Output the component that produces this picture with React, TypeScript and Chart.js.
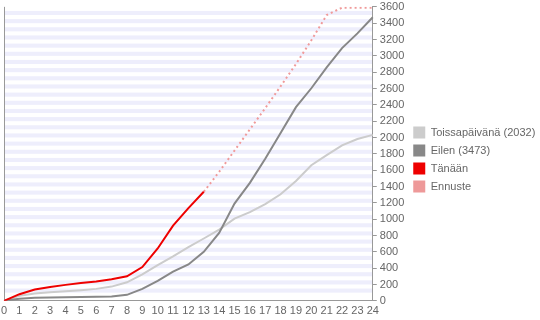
import React, { useEffect, useRef } from "react";
import { Chart, registerables } from "chart.js";

Chart.register(...registerables);

const hours = ["0","1","2","3","4","5","6","7","8","9","10","11","12","13","14","15","16","17","18","19","20","21","22","23","24"];
const toissapaivana = [0, 61, 89, 105, 117, 130, 146, 174, 227, 324, 438, 543, 657, 763, 871, 1006, 1086, 1184, 1305, 1468, 1660, 1784, 1903, 1982, 2032];
const eilen = [0, 24, 36, 41, 44, 46, 50, 53, 73, 146, 243, 357, 445, 600, 831, 1190, 1445, 1740, 2055, 2372, 2603, 2858, 3095, 3275, 3473];
const tanaan = [0, 81, 138, 170, 195, 219, 235, 263, 300, 413, 641, 920, 1135, 1335];
const ennuste = [null, null, null, null, null, null, null, null, null, null, null, null, null, 1335, 1580, 1840, 2100, 2359, 2627, 2900, 3190, 3500, 3590, 3590, 3590];
const seriesNames = ["Toissapäivänä (2032)", "Eilen (3473)", "Tänään", "Ennuste"];
const seriesColors = ["#cccccc", "#888888", "#ee0000", "#ee9999"];
const yMax = 3600;
const yStep = 200;
const stripeStep = 100;

const stripes = {
  id: "stripes",
  beforeDraw(chart: any) {
    const { ctx, chartArea } = chart;
    const y = chart.scales.y;
    ctx.save();
    ctx.fillStyle = "#eeeefc";
    for (let v = stripeStep; v < yMax; v += stripeStep) {
      const top = y.getPixelForValue(v + stripeStep / 2);
      const bot = y.getPixelForValue(v);
      ctx.fillRect(chartArea.left, top, chartArea.right - chartArea.left, bot - top);
    }
    ctx.restore();
  },
};

export default function App() {
  const ref = useRef<HTMLCanvasElement>(null);
  useEffect(() => {
    document.body.style.margin = "0";
    const font = { family: "'Liberation Sans', Arial, sans-serif", size: 11 };
    const yFont = { family: "'Liberation Sans', Arial, sans-serif", size: 11, lineHeight: 0.7 };
    const chart = new Chart(ref.current!, {
      type: "line",
      data: {
        labels: hours,
        datasets: [
          { label: seriesNames[0], data: toissapaivana, borderColor: "#cccccc", backgroundColor: seriesColors[0], borderWidth: 2, pointRadius: 0, order: 4 },
          { label: seriesNames[1], data: eilen, borderColor: "#888888", backgroundColor: seriesColors[1], borderWidth: 2, pointRadius: 0, order: 3 },
          { label: seriesNames[2], data: tanaan, borderColor: "#ee0000", backgroundColor: seriesColors[2], borderWidth: 2, pointRadius: 0, order: 1 },
          { label: seriesNames[3], data: ennuste, borderColor: "#f09a9a", backgroundColor: seriesColors[3], borderWidth: 2, borderDash: [2, 3], pointRadius: 0, order: 2 },
        ],
      },
      options: {
        animation: false,
        responsive: false,
        layout: { padding: { left: 0, top: 0, right: -3, bottom: 1 } },
        plugins: {
          legend: {
            position: "right",
            labels: {
              boxWidth: 12,
              boxHeight: 12,
              padding: 6,
              color: "#666",
              font,
              generateLabels: (c: any) =>
                c.data.datasets.map((ds: any, i: number) => ({
                  text: ds.label,
                  fillStyle: seriesColors[i],
                  strokeStyle: seriesColors[i],
                  lineWidth: 0,
                  lineDash: [],
                  hidden: false,
                  datasetIndex: i,
                  fontColor: "#666",
                })),
            },
          },
          tooltip: { enabled: false },
        },
        scales: {
          x: {
            type: "category",
            offset: false,
            grid: {
              drawTicks: true,
              tickLength: 3,
              tickColor: "transparent",
              color: (c: any) => (c.index === 0 ? "#999" : "transparent"),
            },
            border: { color: "#999" },
            ticks: { color: "#666", font, autoSkip: false, maxRotation: 0, padding: 1 },
          },
          y: {
            position: "right",
            min: 0,
            max: yMax,
            grid: { drawOnChartArea: false, tickLength: 4, color: "#999" },
            border: { color: "#999" },
            ticks: { stepSize: yStep, color: "#666", font: yFont, padding: 3, autoSkip: false, callback: (v: any) => String(v) },
          },
        },
      },
      plugins: [stripes],
    });
    return () => chart.destroy();
  }, []);
  return <canvas ref={ref} width={540} height={320} style={{ display: "block" }} />;
}
